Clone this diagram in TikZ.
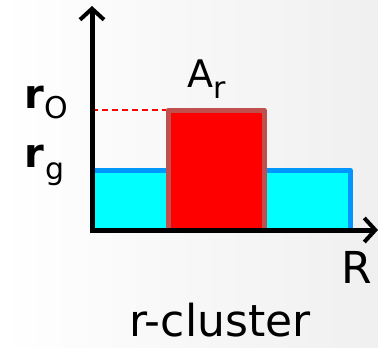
\documentclass[tikz,border=0pt]{standalone}
\usepackage{fontspec}
\setmainfont{DejaVu Sans}
\usetikzlibrary{arrows.meta}
\definecolor{cielo}{RGB}{0,255,255}
\definecolor{azulborde}{RGB}{0,150,255}
\definecolor{rojo}{RGB}{255,0,0}
\definecolor{rojoborde}{RGB}{192,80,77}
\newcommand{\subtxt}[2][10pt]{\raisebox{-#1}{\fontsize{30}{30}\selectfont #2}}

\begin{document}
\begin{tikzpicture}[
        x=1pt, y=-1pt,
        axis/.style={line width=5pt, black, -{Straight Barb[length=11pt, width=24pt, line width=4pt]}},
        bar/.style={line width=5pt, line join=round},
        lbl/.style={inner sep=0pt, anchor=base west}
    ]
        \useasboundingbox (0,0) rectangle (378,348);
        \shade[left color=white, right color=black!6, shading angle=90] (0,0) rectangle (378,348);

        % bars
        \draw[bar, azulborde, fill=cielo] (92,170) rectangle (350,230);
        \draw[bar, rojoborde, fill=rojo] (168,110) rectangle (264,230);
        \draw[rojo, dashed, line width=2pt, dash pattern=on 6pt off 4pt] (92,110) -- (166,110);

        % axes
        \coordinate (orig) at (92,230);
        \draw[axis] (92,233) -- (92,6);
        \draw[axis] (90,230) -- (378,230);

        % labels
        \node[lbl] (ro) at (24,108) {\fontsize{40}{40}\selectfont\bfseries r\mdseries\hspace{1pt}\subtxt{O}};
        \node[lbl] (rg) at (24,167) {\fontsize{40}{40}\selectfont\bfseries r\mdseries\hspace{2pt}\subtxt[12pt]{g}};
        \node[lbl] (ar) at (187,87) {\fontsize{38}{38}\selectfont A\subtxt[11pt]{r}};
        \node[lbl] (erre) at (341,283) {\fontsize{44}{44}\selectfont R};
        \node[inner sep=0pt, anchor=base] (titulo) at (220,336) {\fontsize{44}{44}\selectfont r-cluster};
    \end{tikzpicture}
\end{document}
